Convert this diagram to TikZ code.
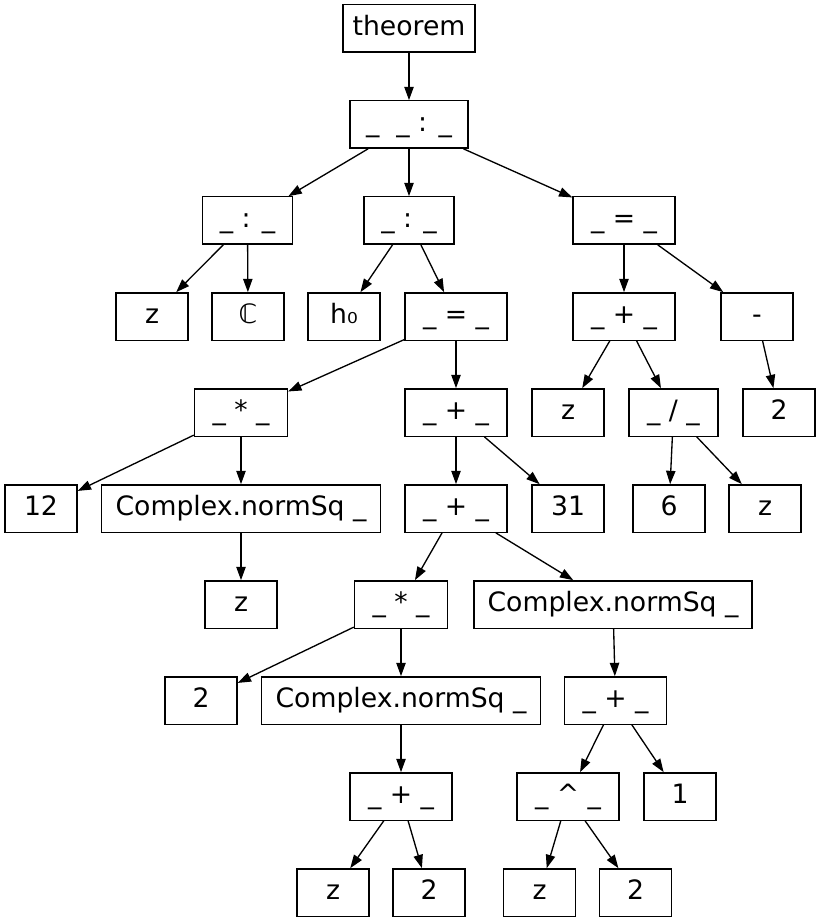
\documentclass[tikz,border=0pt]{standalone}
\usepackage{fontspec}
\setmainfont{DejaVu Sans}
\usetikzlibrary{arrows.meta}
\begin{document}
\begin{tikzpicture}[x=0.75pt,y=-0.75pt,
    box/.style={draw,line width=1pt,inner sep=0pt,minimum height=35.5pt,
      minimum width=#1*0.75pt,text height=14pt,text depth=4.2pt,
      font=\fontsize{20}{24}\selectfont},
    box/.default=72,
    edge/.style={line width=1pt,-{Triangle[length=10pt,width=7pt]}}]
  \useasboundingbox (0,0) rectangle (820,923);
  % rows are 96px apart
  \node[box=132] (thm) at (409,28.5) {theorem};
  \node[box=118] (top) at (409,124.5) {\_\ \ \_ : \_};
  \node[box=90] (colL) at (247.5,220.5) {\_ : \_};
  \node[box=90] (colM) at (409,220.5) {\_ : \_};
  \node[box=102] (eqR) at (624,220.5) {\_ = \_};
  \node[box] (zA) at (152,316.5) {z};
  \node[box] (cc) at (248,316.5) {ℂ};
  \node[box] (h0) at (344,316.5) {h₀};
  \node[box=102] (eqM) at (456,316.5) {\_ = \_};
  \node[box=102] (plusR) at (624,316.5) {\_ + \_};
  \node[box] (neg) at (757,316.5) {-};
  \node[box=93] (mulA) at (241,412.5) {\_ * \_};
  \node[box=102] (plusA) at (456,412.5) {\_ + \_};
  \node[box] (zB) at (568,412.5) {z};
  \node[box=89] (divR) at (673.5,412.5) {\_ / \_};
  \node[box] (twoA) at (779,412.5) {2};
  \node[box] (twelve) at (41,508.5) {12};
  \node[box=279] (nsqA) at (241,508.5) {Complex.normSq \_};
  \node[box=102] (plusB) at (456,508.5) {\_ + \_};
  \node[box] (thirtyone) at (568,508.5) {31};
  \node[box] (six) at (669,508.5) {6};
  \node[box] (zC) at (765,508.5) {z};
  \node[box] (zD) at (241,604.5) {z};
  \node[box=93] (mulB) at (401,604.5) {\_ * \_};
  \node[box=278] (nsqB) at (613,604.5) {Complex.normSq \_};
  \node[box] (twoB) at (201,700.5) {2};
  \node[box=279] (nsqC) at (401,700.5) {Complex.normSq \_};
  \node[box=102] (plusD) at (615.5,700.5) {\_ + \_};
  \node[box=102] (plusC) at (401,796.5) {\_ + \_};
  \node[box=102] (pow) at (568,796.5) {\_ \textasciicircum\ \_};
  \node[box] (one) at (680,796.5) {1};
  \node[box] (zE) at (333,892.5) {z};
  \node[box] (twoC) at (429,892.5) {2};
  \node[box] (zF) at (539.5,892.5) {z};
  \node[box] (twoD) at (635.5,892.5) {2};

  \draw[edge] (thm) -- (top);
  \draw[edge] (top) -- (colL); \draw[edge] (top) -- (colM); \draw[edge] (top) -- (eqR);
  \draw[edge] (colL) -- (zA); \draw[edge] (colL) -- (cc);
  \draw[edge] (colM) -- (h0); \draw[edge] (colM) -- (eqM);
  \draw[edge] (eqR) -- (plusR); \draw[edge] (eqR) -- (neg);
  \draw[edge] (plusR) -- (zB); \draw[edge] (plusR) -- (divR);
  \draw[edge] (neg) -- (twoA);
  \draw[edge] (divR) -- (six); \draw[edge] (divR) -- (zC);
  \draw[edge] (eqM) -- (mulA); \draw[edge] (eqM) -- (plusA);
  \draw[edge] (mulA) -- (twelve); \draw[edge] (mulA) -- (nsqA);
  \draw[edge] (nsqA) -- (zD);
  \draw[edge] (plusA) -- (plusB); \draw[edge] (plusA) -- (thirtyone);
  \draw[edge] (plusB) -- (mulB); \draw[edge] (plusB) -- (nsqB);
  \draw[edge] (mulB) -- (twoB); \draw[edge] (mulB) -- (nsqC);
  \draw[edge] (nsqC) -- (plusC);
  \draw[edge] (nsqB) -- (plusD);
  \draw[edge] (plusD) -- (pow); \draw[edge] (plusD) -- (one);
  \draw[edge] (plusC) -- (zE); \draw[edge] (plusC) -- (twoC);
  \draw[edge] (pow) -- (zF); \draw[edge] (pow) -- (twoD);
\end{tikzpicture}
\end{document}
